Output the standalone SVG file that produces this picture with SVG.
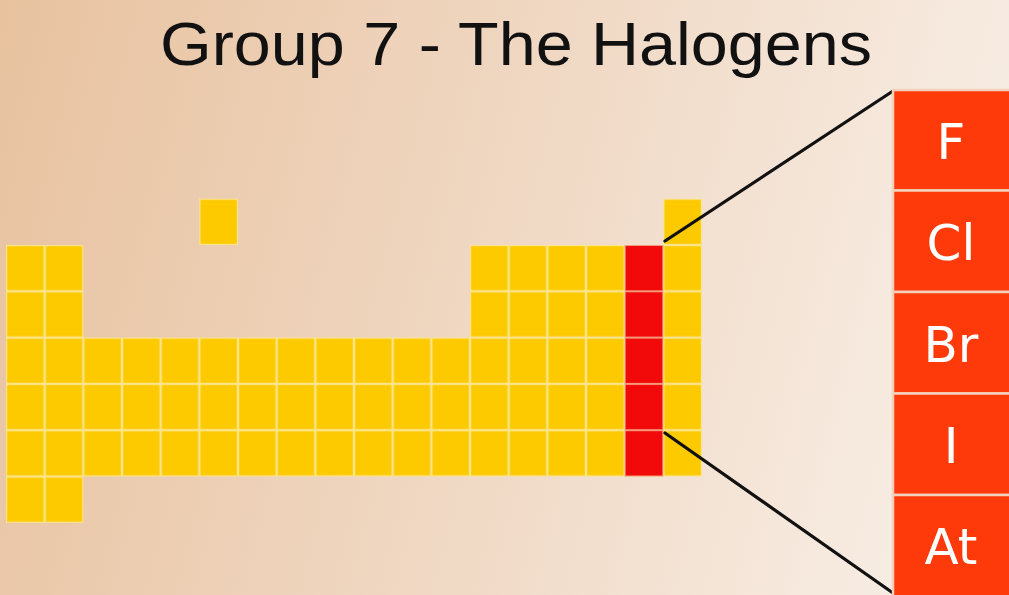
<svg xmlns="http://www.w3.org/2000/svg" width="1009" height="595" viewBox="0 0 1009 595">
  <defs>
    <linearGradient id="bg" x1="0" y1="0" x2="1" y2="0.15">
      <stop offset="0" stop-color="#e8c29f"/>
      <stop offset="0.5" stop-color="#efd6c0"/>
      <stop offset="1" stop-color="#f7ece2"/>
    </linearGradient>
    <pattern id="goldCell" patternUnits="userSpaceOnUse" x="6" y="198.7" width="38.667" height="46.3">
      <rect x="0" y="0" width="38.667" height="46.3" fill="#fdca00" stroke="#fbe48a" stroke-width="2.4"/>
    </pattern>
    <pattern id="redCell" patternUnits="userSpaceOnUse" x="6" y="198.7" width="38.667" height="46.3">
      <rect x="0" y="0" width="38.667" height="46.3" fill="#f20a0a" stroke="#f49a7a" stroke-width="2"/>
    </pattern>
    <style>
      .gold { fill: url(#goldCell); }
      .red { fill: url(#redCell); }
      .hbox { fill: #fe3a0a; stroke: #f2d2bd; stroke-width: 2.5; }
      .sym { font-family: "DejaVu Sans", "Liberation Sans", sans-serif; font-size: 50px; fill: #ffffff; text-anchor: middle; }
      .title { font-family: "Liberation Sans", "DejaVu Sans", sans-serif; font-size: 62px; fill: #111111; }
      .conn { stroke: #111111; stroke-width: 3.2; fill: none; stroke-linecap: round; }
    </style>
  </defs>

  <rect x="0" y="0" width="1009" height="595" fill="url(#bg)"/>

  <text class="title" x="160" y="65" textLength="712" lengthAdjust="spacingAndGlyphs">Group 7 - The Halogens</text>

  <g id="periodic-table">
    <rect class="gold" x="199.33" y="198.7" width="38.667" height="46.3"/>
    <rect class="gold" x="663.33" y="198.7" width="38.667" height="46.3"/>
    <rect class="gold" x="6" y="245" width="77.333" height="277.8"/>
    <rect class="gold" x="470" y="245" width="232" height="92.6"/>
    <rect class="gold" x="83.333" y="337.6" width="618.667" height="138.9"/>
  </g>

  <g id="group7-column">
    <rect class="red" x="624.67" y="245" width="38.667" height="231.5"/>
  </g>

  <g id="connectors">
    <line class="conn" x1="665" y1="241" x2="893" y2="91"/>
    <line class="conn" x1="665" y1="433" x2="893" y2="593"/>
  </g>

  <g id="halogen-F">
    <rect class="hbox" x="893" y="90" width="118" height="100.5"/>
    <text class="sym" x="951" y="159">F</text>
  </g>
  <g id="halogen-Cl">
    <rect class="hbox" x="893" y="190.5" width="118" height="101.5"/>
    <text class="sym" x="951" y="260">Cl</text>
  </g>
  <g id="halogen-Br">
    <rect class="hbox" x="893" y="292" width="118" height="101.5"/>
    <text class="sym" x="951" y="362">Br</text>
  </g>
  <g id="halogen-I">
    <rect class="hbox" x="893" y="393.5" width="118" height="101.5"/>
    <text class="sym" x="951" y="463">I</text>
  </g>
  <g id="halogen-At">
    <rect class="hbox" x="893" y="495" width="118" height="102"/>
    <text class="sym" x="951" y="564">At</text>
  </g>
</svg>
